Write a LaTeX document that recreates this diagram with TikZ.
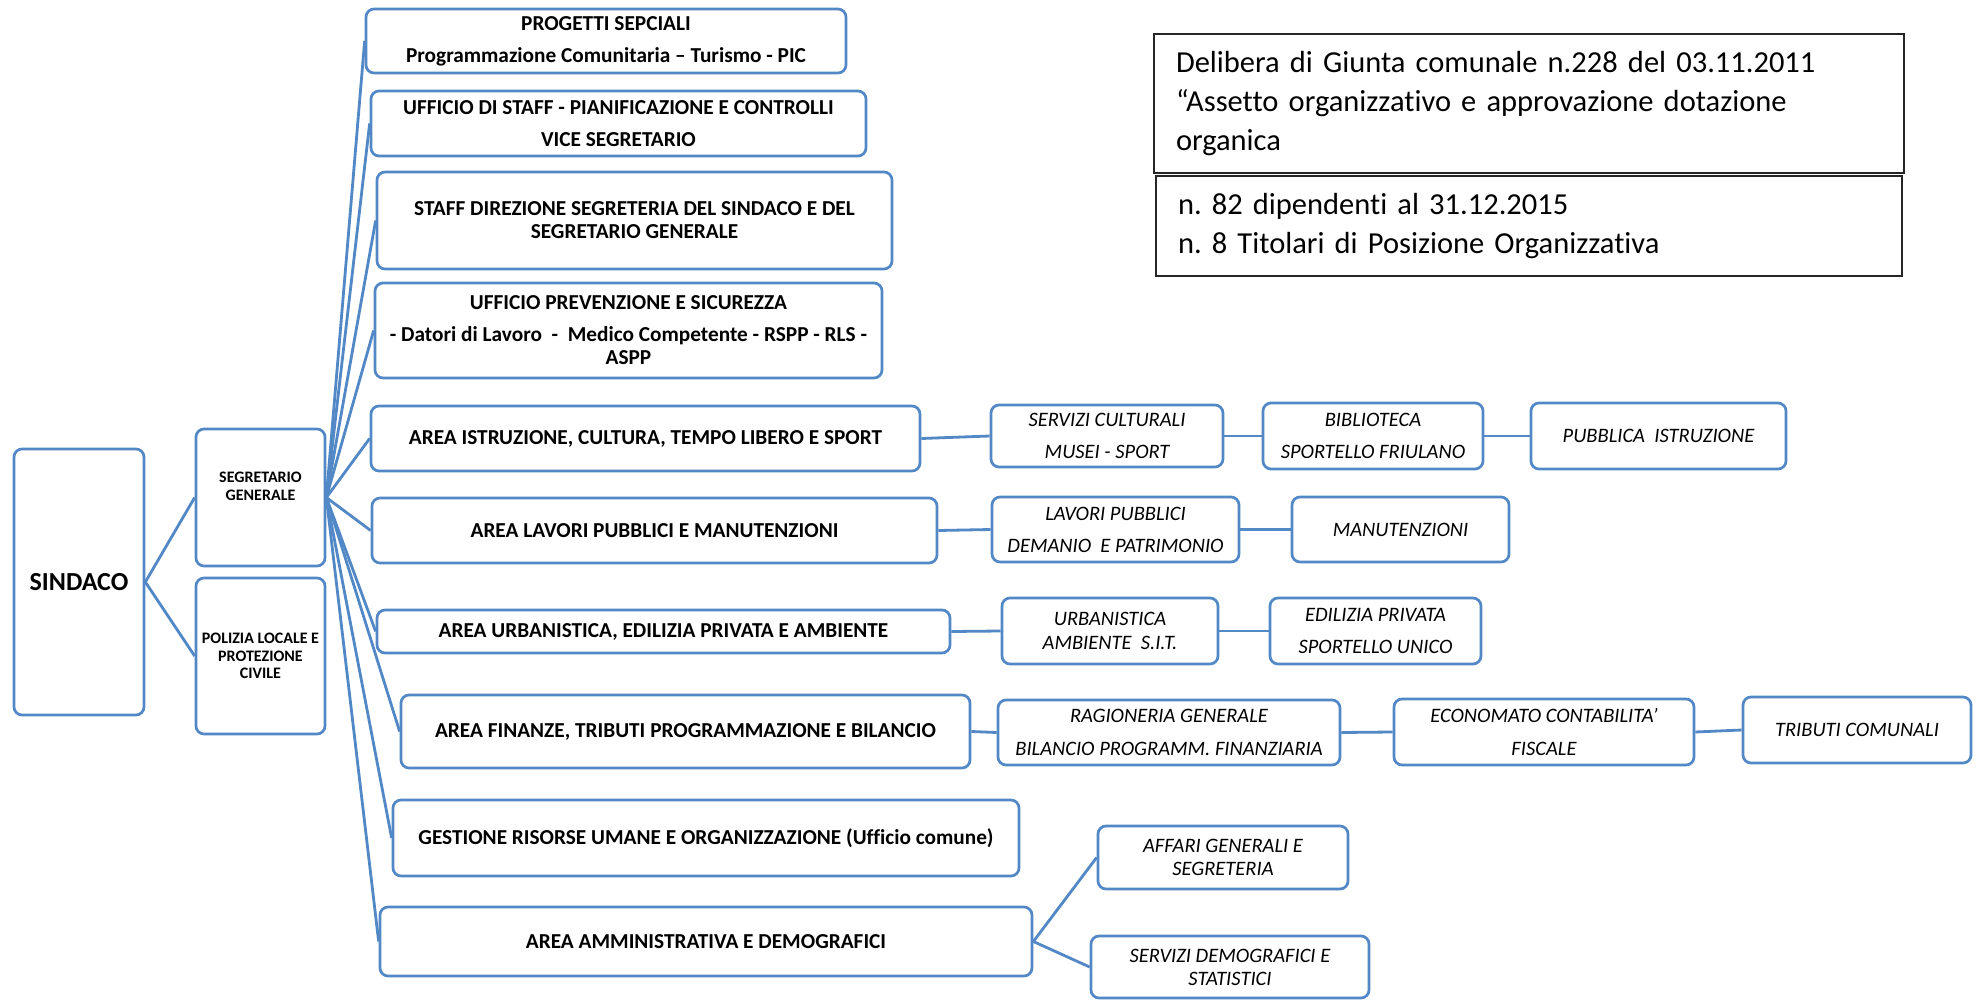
\documentclass[tikz,border=0pt]{standalone}
\usepackage{fontspec}
\setmainfont{Carlito}[Ligatures={TeX,NoCommon},UprightFont=Carlito,BoldFont=Carlito Bold,ItalicFont=Carlito Italic,BoldItalicFont=Carlito Bold Italic]
\frenchspacing
\definecolor{ob}{RGB}{82,136,198}
\begin{document}
\begin{tikzpicture}[x=1pt,y=-1pt,
  box/.style={draw=ob, line width=2.7pt, rounded corners=8pt, fill=white, inner sep=0pt, align=center, text=black, font=\bfseries\fontsize{21.3}{25}\selectfont},
  sub/.style={box, font=\normalfont\itshape\fontsize{20.5}{24}\selectfont},
  conn/.style={draw=ob, line width=2.8pt},
  info/.style={draw=black!85, line width=1.3pt, inner xsep=22pt, inner ysep=0pt, align=left, font=\fontsize{30.5}{39}\selectfont},
]
\useasboundingbox (0,0) rectangle (1978,1000);
\fill[white] (0,0) rectangle (1978,1000);

% level 0/1
\node[box, minimum width=130pt, minimum height=266pt, font=\bfseries\fontsize{26}{30}\selectfont] (sindaco) at (79,582) {SINDACO};
\node[box, minimum width=129pt, minimum height=137pt] (segr) at (260.5,497.5) {};
\node[font=\bfseries\fontsize{16}{18}\selectfont, align=center] (segrtxt) at (260.5,486) {SEGRETARIO\\GENERALE};
\node[box, minimum width=129pt, minimum height=156pt, font=\bfseries\fontsize{16}{17.5}\selectfont] (pol) at (260.5,656) {POLIZIA LOCALE E\\PROTEZIONE\\CIVILE};

% areas
\node[box, minimum width=480pt, minimum height=64pt] (prog) at (606,41) {PROGETTI SEPCIALI\\[7pt]Programmazione Comunitaria – Turismo - PIC};
\node[box, minimum width=495pt, minimum height=65pt] (ustaff) at (618.5,123.5) {UFFICIO DI STAFF - PIANIFICAZIONE E CONTROLLI\\[7pt]VICE SEGRETARIO};
\node[box, minimum width=515pt, minimum height=97pt] (sdir) at (634.5,220.5) {STAFF DIREZIONE SEGRETERIA DEL SINDACO E DEL\\[-2pt]SEGRETARIO GENERALE};
\node[box, minimum width=507pt, minimum height=95pt] (uprev) at (628.5,330.5) {UFFICIO PREVENZIONE E SICUREZZA\\[7pt]- Datori di Lavoro \ -\ \ Medico Competente - RSPP - RLS -\\[-2pt]ASPP};
\node[box, minimum width=549pt, minimum height=65pt] (istr) at (645.5,438.5) {AREA ISTRUZIONE, CULTURA, TEMPO LIBERO E SPORT};
\node[box, minimum width=565pt, minimum height=65pt] (lav) at (654.5,530.5) {AREA LAVORI PUBBLICI E MANUTENZIONI};
\node[box, minimum width=573pt, minimum height=43pt] (urb) at (663.5,631.5) {AREA URBANISTICA, EDILIZIA PRIVATA E AMBIENTE};
\node[box, minimum width=569pt, minimum height=73pt] (fin) at (685.5,731.5) {AREA FINANZE, TRIBUTI PROGRAMMAZIONE E BILANCIO};
\node[box, minimum width=626pt, minimum height=76pt] (gest) at (706,838) {GESTIONE RISORSE UMANE E ORGANIZZAZIONE (Ufficio comune)};
\node[box, minimum width=652pt, minimum height=69pt] (amm) at (706,941.5) {AREA AMMINISTRATIVA E DEMOGRAFICI};

% sub units
\node[sub, minimum width=232pt, minimum height=62pt] (serv) at (1107,436) {SERVIZI CULTURALI\\[8pt]MUSEI - SPORT};
\node[sub, minimum width=220pt, minimum height=66pt] (bibl) at (1373,436) {BIBLIOTECA\\[8pt]SPORTELLO FRIULANO};
\node[sub, minimum width=255pt, minimum height=66pt] (pubb) at (1658.5,436) {PUBBLICA\ \ ISTRUZIONE};
\node[sub, minimum width=247pt, minimum height=65pt] (lavpub) at (1115.5,529.5) {LAVORI PUBBLICI\\[8pt]DEMANIO\ \ E PATRIMONIO};
\node[sub, minimum width=217pt, minimum height=65pt] (manut) at (1400.5,529.5) {MANUTENZIONI};
\node[sub, minimum width=216pt, minimum height=66pt] (urbs) at (1110,631) {URBANISTICA\\AMBIENTE\ \ S.I.T.};
\node[sub, minimum width=211pt, minimum height=66pt] (edil) at (1375.5,631) {EDILIZIA PRIVATA\\[8pt]SPORTELLO UNICO};
\node[sub, minimum width=342pt, minimum height=65pt] (rag) at (1169,732.5) {RAGIONERIA GENERALE\\[9pt]BILANCIO PROGRAMM. FINANZIARIA};
\node[sub, minimum width=300pt, minimum height=66pt] (econ) at (1544,732) {ECONOMATO CONTABILITA’\\[9pt]FISCALE};
\node[sub, minimum width=228pt, minimum height=66pt] (trib) at (1857,730) {TRIBUTI COMUNALI};
\node[sub, minimum width=250pt, minimum height=63pt] (aff) at (1223,857.5) {AFFARI GENERALI E\\[-1pt]SEGRETERIA};
\node[sub, minimum width=278pt, minimum height=62pt] (demo) at (1230,967) {SERVIZI DEMOGRAFICI E\\[-1pt]STATISTICI};

% info boxes
\node[info, text width=706pt, minimum height=139pt] (info1) at (1529,103.5) {Delibera di Giunta comunale n.228 del 03.11.2011\\“Assetto organizzativo e approvazione dotazione\\organica};
\node[info, text width=702pt, minimum height=100pt] (info2) at (1529,226) {n. 82 dipendenti al 31.12.2015\\n. 8 Titolari di Posizione Organizzativa};

% connectors
\draw[conn] (sindaco.east) -- (segr.west);
\draw[conn] (sindaco.east) -- (pol.west);
\foreach \n in {prog,ustaff,sdir,uprev,istr,lav,urb,fin,gest,amm}
  \draw[conn] (segr.east) -- (\n.west);
\draw[conn] (istr.east) -- (serv.west);
\draw[conn] (serv.east) -- (bibl.west);
\draw[conn] (bibl.east) -- (pubb.west);
\draw[conn] (lav.east) -- (lavpub.west);
\draw[conn] (lavpub.east) -- (manut.west);
\draw[conn] (urb.east) -- (urbs.west);
\draw[conn] (urbs.east) -- (edil.west);
\draw[conn] (fin.east) -- (rag.west);
\draw[conn] (rag.east) -- (econ.west);
\draw[conn] (econ.east) -- (trib.west);
\draw[conn] (amm.east) -- (aff.west);
\draw[conn] (amm.east) -- (demo.west);
\end{tikzpicture}
\end{document}
